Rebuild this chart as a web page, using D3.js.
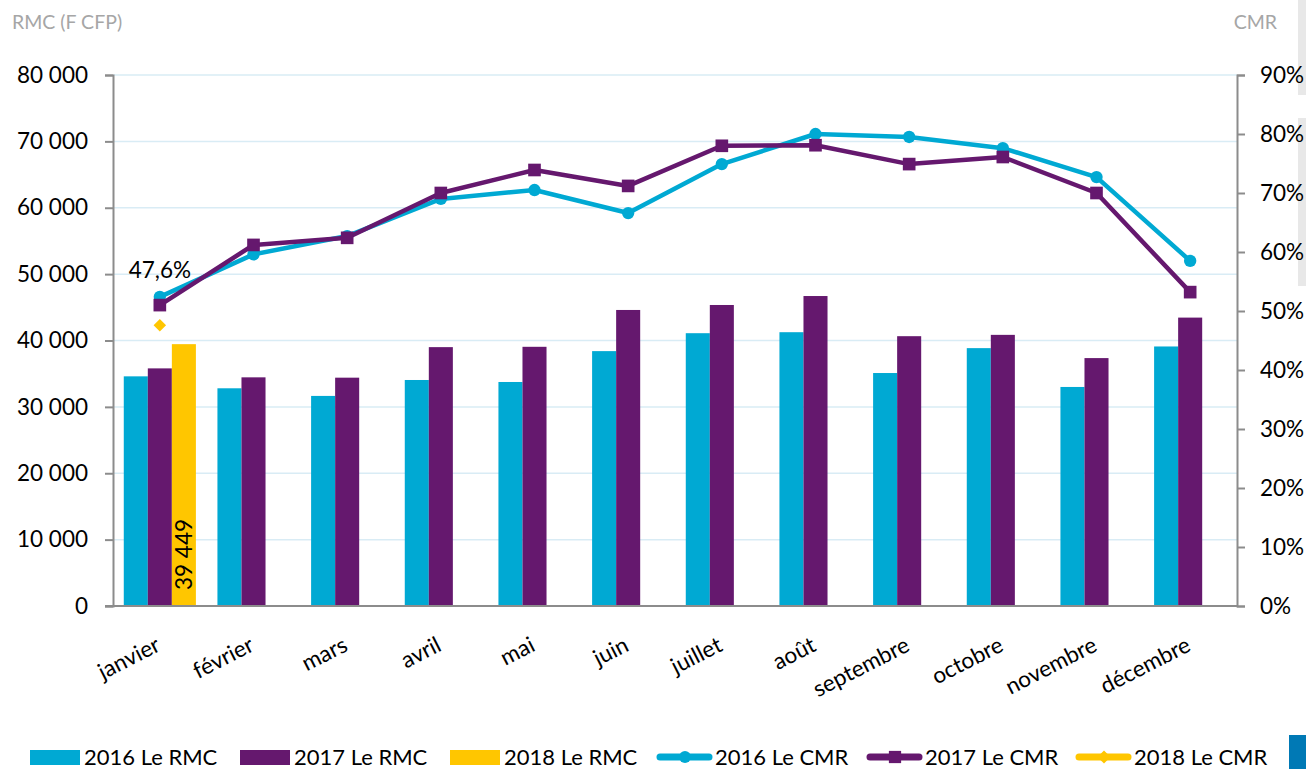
<!DOCTYPE html>
<html>
<head>
<meta charset="utf-8">
<script src="https://cdn.jsdelivr.net/npm/d3@7"></script>
<style>
  body { margin: 0; background: #fff; }
  svg text { font-family: Lato, "Open Sans", sans-serif; }
</style>
</head>
<body>
<svg id="chart" width="1306" height="769"></svg>
<script>
// ************************************
// Data
// ************************************
const months = ["janvier", "février", "mars", "avril", "mai", "juin", "juillet", "août", "septembre", "octobre", "novembre", "décembre"];

const rmc2016 = [34600, 32800, 31650, 34050, 33750, 38400, 41100, 41250, 35100, 38850, 33000, 39100];
const rmc2017 = [35800, 34450, 34400, 39000, 39050, 44600, 45350, 46700, 40650, 40850, 37350, 43450];
const rmc2018 = [39449];

const cmr2016 = [52.4, 59.6, 62.7, 69.0, 70.5, 66.6, 74.9, 80.0, 79.5, 77.6, 72.7, 58.5];
const cmr2017 = [51.0, 61.2, 62.4, 70.0, 73.9, 71.2, 78.0, 78.1, 74.9, 76.1, 70.0, 53.2];
const cmr2018 = [47.6];

const leftTicks = [0, 10000, 20000, 30000, 40000, 50000, 60000, 70000, 80000];
const rightTicks = [0, 10, 20, 30, 40, 50, 60, 70, 80, 90];

const colors = { c2016: "#00a9d3", c2017: "#65186e", c2018: "#ffc600" };

// ************************************
// Layout
// ************************************
const svg = d3.select("#chart");
const plotLeft = 113, plotRight = 1237, plotTop = 75, plotBottom = 606;

// edge artefacts of the original capture (behind everything)
svg.append("rect").attr("x", 1298).attr("y", 0).attr("width", 8).attr("height", 95).attr("fill", "#e8e8e8");
svg.append("rect").attr("x", 1298).attr("y", 118).attr("width", 8).attr("height", 168).attr("fill", "#e8e8e8");

const x = d3.scaleBand().domain(months).range([plotLeft, plotRight]).paddingInner(0.23).paddingOuter(0.115);
const xSlot = d3.scaleBand().domain(["2016", "2017", "2018"]).range([0, x.bandwidth()]);
const yL = d3.scaleLinear().domain([0, 80000]).range([plotBottom, plotTop]);
const yR = d3.scaleLinear().domain([0, 90]).range([plotBottom, plotTop]);
const center = m => x(m) + x.bandwidth() / 2;

const fmt = d => d3.format(",")(d).replace(/,/g, " ");

// Gridlines
svg.append("g")
    .selectAll("line")
    .data(leftTicks.slice(1))
    .join("line")
    .attr("x1", plotLeft).attr("x2", plotRight)
    .attr("y1", d => yL(d)).attr("y2", d => yL(d))
    .attr("stroke", "#d9ecf5")
    .attr("stroke-width", 1.5);

// Bars
const barSeries = [
    { key: "2016", values: rmc2016, color: colors.c2016 },
    { key: "2017", values: rmc2017, color: colors.c2017 },
    { key: "2018", values: rmc2018, color: colors.c2018 }
];
barSeries.forEach(s => {
    svg.append("g")
        .selectAll("rect")
        .data(s.values)
        .join("rect")
        .attr("x", (d, i) => x(months[i]) + xSlot(s.key))
        .attr("width", xSlot.bandwidth())
        .attr("y", d => yL(d))
        .attr("height", d => yL(0) - yL(d))
        .attr("fill", s.color);
});

// Value label on the 2018 bar
svg.append("text")
    .attr("transform", `translate(${x(months[0]) + xSlot("2018") + xSlot.bandwidth() / 2 + 8},${yL(0) - 16}) rotate(-90)`)
    .attr("font-size", 22.5)
    .attr("fill", "#000")
    .text(fmt(rmc2018[0]));

// Axes
const leftAxis = svg.append("g")
    .attr("transform", `translate(${plotLeft},0)`)
    .call(d3.axisLeft(yL).tickValues(leftTicks).tickFormat(fmt).tickSizeOuter(0).tickSize(8).tickPadding(17));
const rightAxis = svg.append("g")
    .attr("transform", `translate(${plotRight},0)`)
    .call(d3.axisRight(yR).tickValues(rightTicks).tickFormat(d => d + "%").tickSizeOuter(0).tickSize(8).tickPadding(15));
const bottomAxis = svg.append("g")
    .attr("transform", `translate(0,${plotBottom})`)
    .call(d3.axisBottom(x).tickSize(0).tickSizeOuter(0).tickPadding(0));

[leftAxis, rightAxis, bottomAxis].forEach(a => {
    a.select(".domain").attr("stroke", "#8c8c8c").attr("stroke-width", 2);
    a.selectAll(".tick line").attr("stroke", "#8c8c8c").attr("stroke-width", 2);
    a.selectAll("text").attr("font-size", 22.5).attr("fill", "#000").style("font-family", "Lato, sans-serif");
});
bottomAxis.select(".domain").attr("d", `M${plotLeft - 8},0H${plotRight}`);

bottomAxis.selectAll(".tick text")
    .attr("text-anchor", "end")
    .attr("dy", 0)
    .attr("transform", "translate(2,44) rotate(-27)");

// Axis titles
svg.append("text").attr("x", 12).attr("y", 29).attr("font-size", 19.5).attr("fill", "#a6a6a6").text("RMC (F CFP)");
svg.append("text").attr("x", 1277).attr("y", 29).attr("font-size", 19.5).attr("fill", "#a6a6a6").attr("text-anchor", "end").text("CMR");

// Lines
const line = d3.line().x((d, i) => center(months[i])).y(d => yR(d));

function drawLine(values, color, shape) {
    const g = svg.append("g");
    g.append("path")
        .attr("d", line(values))
        .attr("fill", "none")
        .attr("stroke", color)
        .attr("stroke-width", 4.5)
        .attr("stroke-linejoin", "round");
    g.selectAll("path.marker")
        .data(values)
        .join("path")
        .attr("class", "marker")
        .attr("transform", (d, i) => `translate(${center(months[i])},${yR(d)})`)
        .attr("d", d3.symbol().type(shape.type).size(shape.size))
        .attr("fill", color);
}
drawLine(cmr2016, colors.c2016, { type: d3.symbolCircle, size: 120 });
drawLine(cmr2017, colors.c2017, { type: d3.symbolSquare, size: 160 });
drawLine(cmr2018, colors.c2018, { type: d3.symbolDiamond2, size: 100 });

// Label for 2018 CMR
svg.append("text")
    .attr("x", center(months[0]))
    .attr("y", 278)
    .attr("text-anchor", "middle")
    .attr("font-size", 22.5)
    .text(d3.format(".1f")(cmr2018[0]).replace(".", ",") + "%");

// ************************************
// Legend
// ************************************
const legendItems = [
    { label: "2016 Le RMC", color: colors.c2016, kind: "rect", x: 30 },
    { label: "2017 Le RMC", color: colors.c2017, kind: "rect", x: 240 },
    { label: "2018 Le RMC", color: colors.c2018, kind: "rect", x: 450 },
    { label: "2016 Le CMR", color: colors.c2016, kind: "line", x: 657, shape: d3.symbolCircle, size: 110 },
    { label: "2017 Le CMR", color: colors.c2017, kind: "line", x: 867, shape: d3.symbolSquare, size: 150 },
    { label: "2018 Le CMR", color: colors.c2018, kind: "line", x: 1076, shape: d3.symbolDiamond2, size: 110 }
];
const legendY = 756;
const lg = svg.append("g").selectAll("g").data(legendItems).join("g")
    .attr("transform", d => `translate(${d.x},${legendY})`);
lg.filter(d => d.kind === "rect").append("rect")
    .attr("x", 0).attr("y", -6).attr("width", 50).attr("height", 15)
    .attr("fill", d => d.color);
lg.filter(d => d.kind === "line").append("line")
    .attr("x1", 3).attr("x2", 52).attr("y1", 1).attr("y2", 1)
    .attr("stroke", d => d.color).attr("stroke-width", 7).attr("stroke-linecap", "round");
lg.filter(d => d.kind === "line").append("path")
    .attr("transform", "translate(28,1)")
    .attr("d", d => d3.symbol().type(d.shape).size(d.size)())
    .attr("fill", d => d.color);
lg.append("text")
    .attr("x", d => d.kind === "rect" ? 54 : 58)
    .attr("y", 9)
    .attr("font-size", 22)
    .text(d => d.label);

svg.append("rect").attr("x", 1289).attr("y", 735).attr("width", 17).attr("height", 34).attr("fill", "#0079b5");
</script>
</body>
</html>
